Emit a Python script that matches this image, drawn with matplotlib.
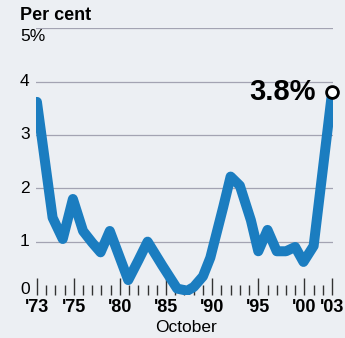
import matplotlib
matplotlib.use("Agg")
import matplotlib.pyplot as plt
import matplotlib.transforms as mtransforms

# Positions along the axis are in tick units (one tick per year, first tick = '73)
x_pos = [0, 1.7, 2.8, 3.9, 5.0, 6.0, 6.9, 7.9, 9.9, 11.0, 12.0, 13.6, 15.2, 16.3,
         17.0, 18.0, 18.8, 20.2, 21.0, 22.0, 23.2, 24.0, 25.0, 26.0, 27.0, 28.0,
         28.9, 30.0, 32.0]
rate = [3.62, 1.45, 1.05, 1.8, 1.2, 0.98, 0.8, 1.2, 0.28, 0.65, 1.0, 0.55, 0.12, 0.08,
        0.15, 0.35, 0.7, 1.65, 2.22, 2.05, 1.4, 0.82, 1.22, 0.82, 0.82, 0.9,
        0.62, 0.92, 3.8]

major_ticks = [0, 4, 9, 14, 19, 24, 29, 32]
major_labels = ["'73", "'75", "'80", "'85", "'90", "'95", "'00", "'03"]
minor_ticks = list(range(0, 33))
y_levels = [0, 1, 2, 3, 4, 5]
y_labels = ["0", "1", "2", "3", "4", "5%"]

bg = "#eceff3"
blue = "#1b7dc0"
plt.rcParams["font.family"] = ["Liberation Sans", "DejaVu Sans"]

W, H = 345, 338
fig = plt.figure(figsize=(W / 100, H / 100), dpi=100, facecolor=bg)
ax = fig.add_axes([36 / W, 1 - 295 / H, (333 - 36) / W, (295 - 28.3) / H])
ax.set_facecolor(bg)
ax.set_xlim(-0.1, 32.1)
ax.set_ylim(0, 5)

for s in ax.spines.values():
    s.set_visible(False)

for lv in y_levels[1:]:
    ax.axhline(lv, color="#a3a3b2", lw=0.9, zorder=1)

ax.plot(x_pos, rate, color=blue, lw=7.2, solid_joinstyle="round",
        solid_capstyle="round", zorder=3)
ax.plot(x_pos[-1], rate[-1], "o", ms=8.5, mfc="white", mec="black", mew=2,
        zorder=4, clip_on=False)
ax.text(x_pos[-1] - 1.8, rate[-1], f"{rate[-1]}%", ha="right", va="center",
        fontsize=21, fontweight="bold", zorder=5)

ax.set_yticks([])
ax.set_xticks(major_ticks)
ax.set_xticklabels(major_labels, fontsize=13, fontweight="bold")
ax.set_xticks(minor_ticks, minor=True)
ax.tick_params(axis="x", which="major", direction="in", length=12, width=1.0,
               color="#333333", pad=3)
ax.tick_params(axis="x", which="minor", direction="in", length=7, width=1.0,
               color="#333333")

trans = mtransforms.blended_transform_factory(fig.transFigure, ax.transData)
for lv, lab in zip(y_levels, y_labels):
    if lab == "5%":
        ax.text(20 / W, lv - 0.02, lab, transform=trans, ha="left", va="top",
                fontsize=12.5)
    elif lv == 0:
        ax.text(20 / W, lv + 0.1, lab, transform=trans, ha="left", va="center",
                fontsize=12.5)
    else:
        ax.text(20 / W, lv, lab, transform=trans, ha="left", va="center",
                fontsize=12.5)

fig.text(20 / W, 1 - 20 / H, "Per cent", ha="left", va="baseline",
         fontsize=13, fontweight="bold")
fig.text(186 / W, 1 - 327 / H, "October", ha="center", va="center", fontsize=12.5)

fig.savefig("out.png", dpi=100, facecolor=bg)
